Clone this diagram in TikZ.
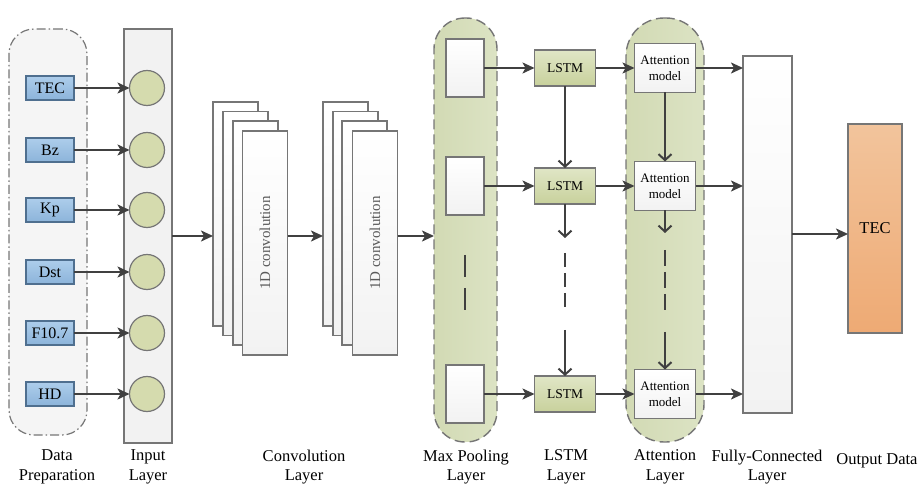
\documentclass[tikz,border=0pt]{standalone}
\usepackage{fontspec}
\setmainfont{Liberation Serif}
\usetikzlibrary{arrows.meta}
\definecolor{linec}{HTML}{404040}
\definecolor{bordc}{HTML}{767676}
\definecolor{blueT}{HTML}{ADCDEB}
\definecolor{blueB}{HTML}{8CB4DA}
\definecolor{blueD}{HTML}{4F6F8F}
\definecolor{circF}{HTML}{D5DBAE}
\definecolor{lstmT}{HTML}{E0E6C6}
\definecolor{lstmB}{HTML}{C8D19C}
\definecolor{pillF}{HTML}{DCE3C4}
\definecolor{pillL}{HTML}{D2DAB4}
\definecolor{orT}{HTML}{F2C49C}
\definecolor{orB}{HTML}{EEAA74}
\definecolor{prepF}{HTML}{F5F5F5}
\definecolor{layF}{HTML}{F2F2F2}
\definecolor{convtxt}{HTML}{5A5A5A}
\begin{document}
\begin{tikzpicture}[x=1pt,y=-1pt,
  every node/.style={inner sep=0pt, outer sep=0pt},
  conn/.style={draw=linec, line width=2pt},
  arr/.style={conn, -{Stealth[length=12pt,width=11pt,inset=3pt]}},
  varr/.style={conn, -{Straight Barb[length=6pt,width=13pt]}},
  dline/.style={conn, dash pattern=on 14pt off 6pt},
  inbox/.style={draw=blueD, line width=1.2pt, top color=blueT, bottom color=blueB,
     minimum width=48pt, minimum height=24pt, font=\fontsize{16}{16}\selectfont},
  neuron/.style={circle, draw=bordc, line width=1.2pt, fill=circF, minimum size=35pt},
  whitebox/.style={draw=bordc, line width=1.2pt, top color=white, bottom color=layF},
  convbox/.style={whitebox, minimum width=45pt, minimum height=224pt},
  poolbox/.style={whitebox, minimum width=38pt, minimum height=58pt},
  lstmbox/.style={draw=bordc, line width=1.2pt, top color=lstmT, bottom color=lstmB,
     minimum width=61pt, minimum height=36pt, font=\fontsize{13.5}{13.5}\selectfont},
  attbox/.style={whitebox, minimum width=61pt, minimum height=49pt, align=center,
     font=\fontsize{13}{16}\selectfont},
  pill/.style={draw=bordc, line width=1.4pt, dash pattern=on 10pt off 5pt,
     left color=pillL, right color=pillF},
  lab/.style={align=center, font=\fontsize{16.5}{19.5}\selectfont, anchor=north}
]
\useasboundingbox (0,0) rectangle (922,489);

% ---------- Data preparation ----------
\node[draw=bordc, line width=1.2pt, fill=prepF, rounded corners=25pt,
      dash pattern=on 9pt off 3pt on 1.5pt off 3pt,
      minimum width=78pt, minimum height=406pt] (prep) at (48,232) {};
\node[inbox] (tec) at (50,88) {TEC};
\node[inbox] (bz)  at (50,150) {Bz};
\node[inbox] (kp)  at (50,210) {Kp};
\node[inbox] (dst) at (50,272) {Dst};
\node[inbox] (f107) at (50,333) {F10.7};
\node[inbox] (hd)  at (50,394) {HD};

% ---------- Input layer ----------
\node[draw=bordc, line width=1.2pt, fill=layF, minimum width=48pt, minimum height=414pt] (il) at (148,236) {};
\node[neuron] (n1) at (147,88) {};
\node[neuron] (n2) at (147,150) {};
\node[neuron] (n3) at (147,210) {};
\node[neuron] (n4) at (147,272) {};
\node[neuron] (n5) at (147,333) {};
\node[neuron] (n6) at (147,394) {};
\foreach \a/\b in {tec/n1,bz/n2,kp/n3,dst/n4,f107/n5,hd/n6}
  \draw[arr] (\a.east) -- (\b.west);

% ---------- Convolution stacks ----------
\node[convbox] (c1a) at (235.5,214) {};
\node[convbox] (c1b) at (245.5,223.5) {};
\node[convbox] (c1c) at (255.5,233) {};
\node[convbox, text=convtxt, font=\fontsize{15}{15}\selectfont] (c1d) at (265,243) {\rotatebox{90}{1D convolution}};
\node[convbox] (c2a) at (345.5,214) {};
\node[convbox] (c2b) at (355.5,223.5) {};
\node[convbox] (c2c) at (364.5,233) {};
\node[convbox, text=convtxt, font=\fontsize{15}{15}\selectfont] (c2d) at (375,243) {\rotatebox{90}{1D convolution}};

% ---------- Max pooling ----------
\node[pill, rounded corners=31pt, minimum width=63pt, minimum height=424pt] (mp) at (465.5,230) {};
\node[poolbox] (p1) at (465,68) {};
\node[poolbox] (p2) at (465,186) {};
\node[poolbox] (p3) at (465,394) {};
\coordinate (pd1) at (465,255);
\coordinate (pd2) at (465,310);
\draw[conn, dash pattern=on 22pt off 11pt] (pd1) -- (pd2);

\draw[arr] (il.east) -- (c1a.west |- il.east);
\draw[arr] (c1d.east |- il.east) -- (c2a.west |- il.east);
\draw[arr] (c2d.east |- il.east) -- (mp.west |- il.east);

% ---------- LSTM ----------
\node[lstmbox] (l1) at (565,68) {LSTM};
\node[lstmbox] (l2) at (565,186) {LSTM};
\node[lstmbox] (l3) at (565,394) {LSTM};
\draw[arr] (p1.east) -- (l1.west);
\draw[arr] (p2.east) -- (l2.west);
\draw[arr] (p3.east) -- (l3.west);
\coordinate (la) at (565,238);
\coordinate (lb) at (565,253);
\coordinate (lc) at (565,307);
\coordinate (ld) at (565,330);
\draw[varr] (l1.south) -- (l2.north);
\draw[varr] (l2.south) -- (la);
\draw[dline] (lb) -- (lc);
\draw[varr] (ld) -- (l3.north);

% ---------- Attention ----------
\node[pill, rounded corners=38pt, minimum width=78pt, minimum height=424pt] (al) at (665,230) {};
\node[attbox] (a1) at (665,68) {Attention\\model};
\node[attbox] (a2) at (665,186) {Attention\\model};
\node[attbox] (a3) at (665,394) {Attention\\model};
\draw[arr] (l1.east) -- (a1.west);
\draw[arr] (l2.east) -- (a2.west);
\draw[arr] (l3.east) -- (a3.west);
\coordinate (aa) at (665,233);
\coordinate (ab) at (665,250);
\coordinate (ac) at (665,310);
\coordinate (ad) at (665,332);
\draw[varr] (a1.south) -- (a2.north);
\draw[varr] (a2.south) -- (aa);
\draw[conn, dash pattern=on 16pt off 6pt] (ab) -- (ac);
\draw[varr] (ad) -- (a3.north);

% ---------- Fully connected ----------
\node[whitebox, minimum width=49pt, minimum height=357pt] (fc) at (767.5,234.5) {};
\draw[arr] (a1.east) -- (fc.west |- a1.east);
\draw[arr] (a2.east) -- (fc.west |- a2.east);
\draw[arr] (a3.east) -- (fc.west |- a3.east);

% ---------- Output ----------
\node[draw=bordc, line width=1.2pt, top color=orT, bottom color=orB,
      minimum width=54pt, minimum height=209pt, font=\fontsize{16.5}{16.5}\selectfont] (out) at (875,228.5) {TEC};
\draw[arr] (fc.east |- 0,234) -- (out.west |- 0,234);

% ---------- Labels ----------
\node[lab] (t1) at (57,450) {Data\\Preparation};
\node[lab] (t2) at (148,450) {Input\\Layer};
\node[lab] (t3) at (304,450) {Convolution\\Layer};
\node[lab] (t4) at (466,450) {Max Pooling\\Layer};
\node[lab] (t5) at (566,450) {LSTM\\Layer};
\node[lab] (t6) at (665,450) {Attention\\Layer};
\node[lab] (t7) at (767,450) {Fully-Connected\\Layer};
\node[lab] (t8) at (877,454) {Output Data};
\end{tikzpicture}
\end{document}
